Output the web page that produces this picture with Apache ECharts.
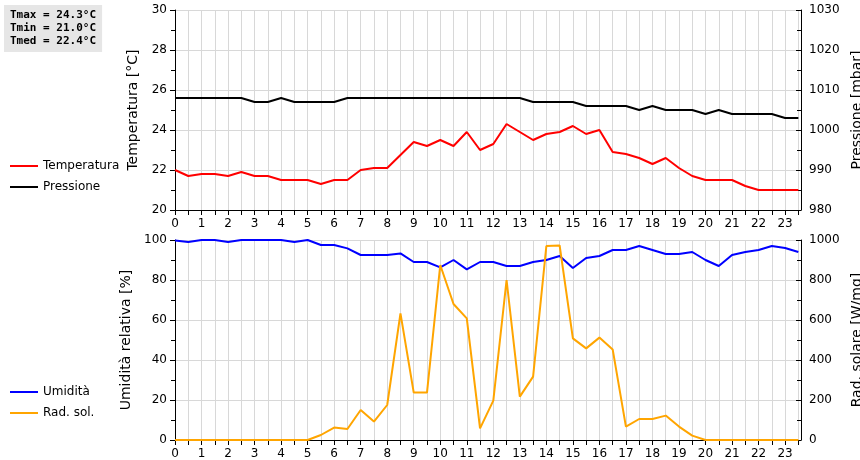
<!DOCTYPE html><html><head><meta charset="utf-8"><script src="https://cdn.jsdelivr.net/npm/echarts@6/dist/echarts.min.js"></script></head><body style="margin:0"><div id="c" style="width:860px;height:460px"></div><script>
const hours = [0,0.5,1,1.5,2,2.5,3,3.5,4,4.5,5,5.5,6,6.5,7,7.5,8,8.5,9,9.5,10,10.5,11,11.5,12,12.5,13,13.5,14,14.5,15,15.5,16,16.5,17,17.5,18,18.5,19,19.5,20,20.5,21,21.5,22,22.5,23,23.5];
const temperatura = [22.0,21.7,21.8,21.8,21.7,21.9,21.7,21.7,21.5,21.5,21.5,21.3,21.5,21.5,22.0,22.1,22.1,22.75,23.4,23.2,23.5,23.2,23.9,23.0,23.3,24.3,23.9,23.5,23.8,23.9,24.2,23.8,24.0,22.9,22.8,22.6,22.3,22.6,22.1,21.7,21.5,21.5,21.5,21.2,21.0,21.0,21.0,21.0];
const pressione = [1008,1008,1008,1008,1008,1008,1007,1007,1008,1007,1007,1007,1007,1008,1008,1008,1008,1008,1008,1008,1008,1008,1008,1008,1008,1008,1008,1007,1007,1007,1007,1006,1006,1006,1006,1005,1006,1005,1005,1005,1004,1005,1004,1004,1004,1004,1003,1003];
const umidita = [99.7,99,100,100,99,100,100,100,100,99,100,97.5,97.5,95.8,92.5,92.5,92.5,93.3,89,89,86.3,90,85.3,89,89,87,87,89,90,92,86,91,92,95,95,97,95,93,93,94,90,87,92.5,94,95,97,96,94];
const radsol = [0,0,0,0,0,0,0,0,0,0,0,25,62,55,150,92,175,633,237,237,875,680,608,58,197,800,217,317,970,973,508,458,512,453,67,105,105,122,67,22,0,0,0,0,0,0,0,0];
const info = ['Tmax = 24.3°C','Tmin = 21.0°C','Tmed = 22.4°C'];
const pair = a => hours.map((h,i)=>[h,a[i]]);
const ff = 'DejaVu Sans';
const xAx = gi => ({type:'value',gridIndex:gi,min:0,max:23.6,interval:0.5,
  axisLine:{lineStyle:{color:'#000'}},axisTick:{lineStyle:{color:'#000'},length:5},
  axisLabel:{color:'#000',fontSize:12,fontFamily:ff,showMaxLabel:false,formatter:v=>Number.isInteger(v)?String(v):''},
  splitLine:{show:true,lineStyle:{color:'#d8d8d8'}}});
const yAx = (gi,min,max,interval,name,pos,split) => ({type:'value',gridIndex:gi,min,max,interval,name,position:pos,
  nameLocation:'middle',nameGap:pos==='left'?34:44,nameTextStyle:{color:'#000',fontSize:14,fontFamily:ff},
  axisLine:{show:true,lineStyle:{color:'#000'}},axisTick:{show:true,inside:pos==='right',lineStyle:{color:'#000'}},
  minorTick:{show:true,splitNumber:2,length:4,lineStyle:{color:'#000'}},
  axisLabel:{color:'#000',fontSize:12,fontFamily:ff,formatter:v=>String(v)},
  splitLine:{show:split,lineStyle:{color:'#d8d8d8'}}});
const chart = echarts.init(document.getElementById('c'));
chart.setOption({animation:false,backgroundColor:'#fff',
  title:{text:info.join('\n'),left:4,top:5,backgroundColor:'#e6e6e6',padding:[4,6],
    textStyle:{fontFamily:'DejaVu Sans Mono',fontWeight:'bold',fontSize:11,lineHeight:13,color:'#000'}},
  grid:[{left:175,right:59,top:10,height:200,outerBoundsMode:'none'},{left:175,right:59,top:240,height:200,outerBoundsMode:'none'}],
  xAxis:[xAx(0),xAx(1)],
  yAxis:[yAx(0,20,30,2,'Temperatura [°C]','left',true),yAx(0,980,1030,10,'Pressione [mbar]','right',false),
         yAx(1,0,100,20,'Umidità relativa [%]','left',true),yAx(1,0,1000,200,'Rad. solare [W/mq]','right',false)],
  legend:[{data:['Temperatura','Pressione'],orient:'vertical',left:5,top:155,itemWidth:28,itemHeight:2,itemGap:9,icon:'rect',textStyle:{fontSize:12,fontFamily:ff,color:'#000'}},
          {data:['Umidità','Rad. sol.'],orient:'vertical',left:5,top:381,itemWidth:28,itemHeight:2,itemGap:9,icon:'rect',textStyle:{fontSize:12,fontFamily:ff,color:'#000'}}],
  series:[
    {name:'Temperatura',type:'line',xAxisIndex:0,yAxisIndex:0,data:pair(temperatura),showSymbol:false,color:'#ff0000',lineStyle:{width:2}},
    {name:'Pressione',type:'line',xAxisIndex:0,yAxisIndex:1,data:pair(pressione),showSymbol:false,color:'#000',lineStyle:{width:2}},
    {name:'Umidità',type:'line',xAxisIndex:1,yAxisIndex:2,data:pair(umidita),showSymbol:false,color:'#0000ff',lineStyle:{width:2}},
    {name:'Rad. sol.',type:'line',xAxisIndex:1,yAxisIndex:3,data:pair(radsol),showSymbol:false,color:'#ffa500',lineStyle:{width:2}}
  ]});
</script></body></html>
